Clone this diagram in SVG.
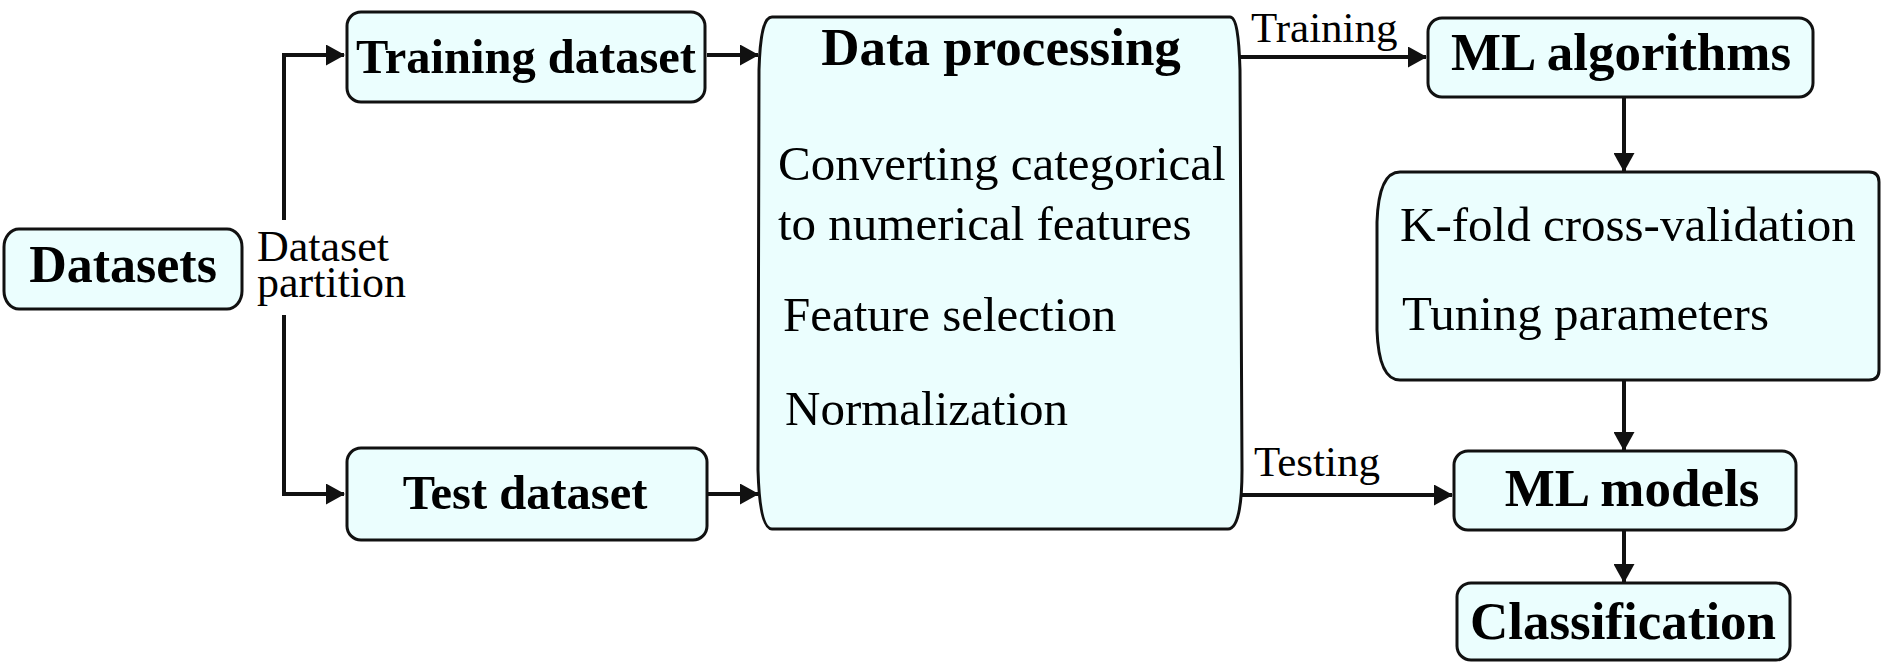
<svg xmlns="http://www.w3.org/2000/svg" width="1881" height="662" viewBox="0 0 1881 662">
<style>
.box{fill:#ebfefe;stroke:#111;stroke-width:3}
.b{font-family:"Liberation Serif","Times New Roman",serif;font-weight:bold;fill:#000}
.r{font-family:"Liberation Serif","Times New Roman",serif;fill:#000}
.c{fill:none;stroke:#111;stroke-width:4}
</style>
<defs>
<marker id="ah" markerUnits="userSpaceOnUse" markerWidth="19" markerHeight="21" viewBox="0 0 19 21" refX="18" refY="10.5" orient="auto">
<path d="M0,0 L19,10.5 L0,21 Z" fill="#111"/>
</marker>
</defs>
<g id="connectors">
<path class="c" d="M284,220 V55 H344" marker-end="url(#ah)"/>
<path class="c" d="M284,315 V494 H344" marker-end="url(#ah)"/>
<path class="c" d="M707,55 H758" marker-end="url(#ah)"/>
<path class="c" d="M707,494 H758" marker-end="url(#ah)"/>
<path class="c" d="M1240,57 H1426" marker-end="url(#ah)"/>
<path class="c" d="M1238,495 H1452" marker-end="url(#ah)"/>
<path class="c" d="M1624,97 V171" marker-end="url(#ah)"/>
<path class="c" d="M1624,380 V450" marker-end="url(#ah)"/>
<path class="c" d="M1624,530 V582" marker-end="url(#ah)"/>
<text class="r" x="257" y="261" font-size="44">Dataset</text>
<text class="r" x="257" y="297" font-size="44">partition</text>
<text class="r" x="1251" y="42" font-size="43">Training</text>
<text class="r" x="1254" y="476" font-size="43">Testing</text>
</g>
<g id="datasets">
<rect class="box" x="4" y="229" width="238" height="80" rx="15" ry="18"/>
<text class="b" x="123" y="282" font-size="52" text-anchor="middle">Datasets</text>
</g>
<g id="training-dataset">
<rect class="box" x="347" y="12" width="358" height="90" rx="14"/>
<text class="b" x="526" y="73" font-size="48.5" text-anchor="middle">Training dataset</text>
</g>
<g id="test-dataset">
<rect class="box" x="347" y="448" width="360" height="92" rx="14"/>
<text class="b" x="525" y="509" font-size="48.5" text-anchor="middle">Test dataset</text>
</g>
<g id="data-processing">
<path class="box" d="M772,17 H1230 C1236,17 1239,35 1240,70 L1242,470 C1242,505 1238,529 1228,529 H772 C763,529 759,505 758,470 L759,70 C760,35 764,17 772,17 Z"/>
<text class="b" x="1001" y="65" font-size="53" text-anchor="middle">Data processing</text>
<text class="r" x="778" y="180" font-size="49">Converting categorical</text>
<text class="r" x="778" y="240" font-size="49">to numerical features</text>
<text class="r" x="783" y="331" font-size="49">Feature selection</text>
<text class="r" x="785" y="425" font-size="49">Normalization</text>
</g>
<g id="ml-algorithms">
<rect class="box" x="1428" y="18" width="385" height="79" rx="14"/>
<text class="b" x="1621" y="70" font-size="53" text-anchor="middle">ML algorithms</text>
</g>
<g id="validation">
<path class="box" d="M1400,172 H1869 Q1879,172 1879,182 V370 Q1879,380 1869,380 H1400 C1385,380 1378,360 1377,330 V222 C1378,192 1385,172 1400,172 Z"/>
<text class="r" x="1400" y="241" font-size="49">K-fold cross-validation</text>
<text class="r" x="1402" y="330" font-size="49">Tuning parameters</text>
</g>
<g id="ml-models">
<rect class="box" x="1454" y="451" width="342" height="79" rx="14"/>
<text class="b" x="1632" y="506" font-size="53" text-anchor="middle">ML models</text>
</g>
<g id="classification">
<rect class="box" x="1457" y="583" width="333" height="77" rx="14"/>
<text class="b" x="1623" y="639" font-size="53" text-anchor="middle">Classification</text>
</g>
</svg>
